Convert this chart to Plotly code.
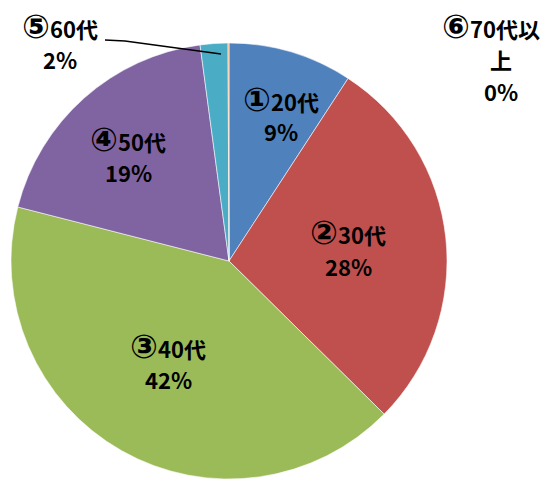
import plotly.graph_objects as go

# ---- data ----
circled = ["①", "②", "③", "④", "⑤", "⑥"]
categories = ["20代", "30代", "40代", "50代", "60代", "70代以上"]
values = [9.2, 28.2, 41.6, 18.9, 2.05, 0.07]

# ---- styles ----
colors = ["#4F81BD", "#C0504D", "#9BBB59", "#8064A2", "#4BACC6", "#F79646"]
W, H = 548, 479
FONT = "Noto Sans CJK JP"
FS = 22
Y_SHIFT = -9
# label lines: (x centre, [y centres of each line]) in pixels
label_pos = [(273, [100, 132]), (340, [233, 267]), (160, [347, 380]),
             (120, [140, 173]), (52, [27, 60]), (493, [27, 60, 92])]
first_line_dx = [0, 0, 0, 0, 0, -10]

total = sum(values)

fig = go.Figure(go.Pie(
    labels=[c + n for c, n in zip(circled, categories)],
    values=values,
    sort=False,
    direction="clockwise",
    rotation=0,
    marker=dict(colors=colors, line=dict(color="rgba(255,255,255,0.8)", width=0.7)),
    textinfo="none",
    hoverinfo="label+percent",
    showlegend=False,
    domain=dict(x=[2 / W, 440 / W], y=[8 / H, 444 / H]),
))


def circ(c):
    return f"<span style='font-family:DejaVu Sans;font-size:33px;font-weight:bold'>{c}</span>"


annotations = []
for c, name, v, (px, ys), dx in zip(circled, categories, values, label_pos, first_line_dx):
    pct = f"{v / total * 100:.0f}%"
    if len(ys) == 3:
        lines = [circ(c) + name[:-1], name[-1], pct]
    else:
        lines = [circ(c) + name, pct]
    for i, (txt, py) in enumerate(zip(lines, ys)):
        annotations.append(dict(
            x=(px + (dx if i == 0 else 0)) / W, y=1 - (py + Y_SHIFT) / H,
            xref="paper", yref="paper",
            text=f"<b>{txt}</b>", showarrow=False,
            xanchor="center", yanchor="middle", align="center",
            font=dict(family=FONT, size=FS, color="#000000"),
        ))

# leader line for ⑤60代
pts = [(97, 32), (117, 33), (213, 46)]
path = "M " + " L ".join(f"{x / W},{1 - y / H}" for x, y in pts)
shapes = [dict(type="path", xref="paper", yref="paper", path=path,
               line=dict(color="#000000", width=1.5))]

fig.update_layout(
    width=W, height=H,
    margin=dict(l=0, r=0, t=0, b=0),
    paper_bgcolor="white",
    plot_bgcolor="white",
    annotations=annotations,
    shapes=shapes,
)

fig.write_html("out.html")
